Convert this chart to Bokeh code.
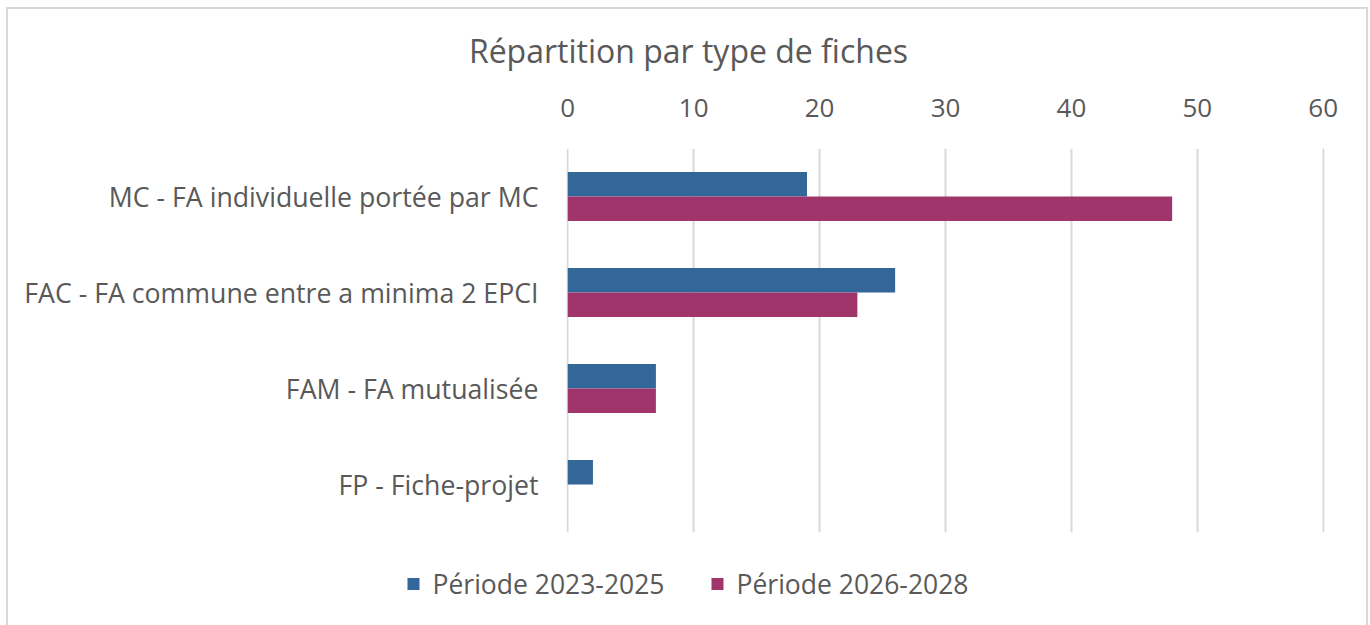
from bokeh.plotting import figure
from bokeh.models import ColumnDataSource, FactorRange, Legend, LegendItem, FixedTicker, Label
from bokeh.layouts import column
from bokeh.transform import dodge
from bokeh.embed import file_html
from bokeh.resources import INLINE

title_text = "Répartition par type de fiches"
categories = ["MC - FA individuelle portée par MC",
              "FAC - FA commune entre a minima 2 EPCI",
              "FAM - FA mutualisée",
              "FP - Fiche-projet"]
periode_2023_2025 = [19, 26, 7, 2]
periode_2026_2028 = [48, 23, 7, 0]
series_names = ["Période 2023-2025", "Période 2026-2028"]
x_ticks = [0, 10, 20, 30, 40, 50, 60]

FONT = "Open Sans"
GREY = "#595959"
BLUE = "#336699"
MAGENTA = "#A0356C"
W = 1358

src = ColumnDataSource(dict(cat=categories, a=periode_2023_2025, b=periode_2026_2028))

# ---- title strip ----
tf = figure(width=W, height=80, output_backend="svg", toolbar_location=None, title=None,
            min_border=0, x_axis_location=None, y_axis_location=None,
            x_range=(0, 1), y_range=(0, 1))
tf.frame_align = False
tf.grid.visible = False
tf.outline_line_color = None
tf.border_fill_color = None
tf.background_fill_color = None
tf.add_layout(Label(x=W / 2 + 1, y=39, x_units="screen", y_units="screen", text=title_text,
                    text_align="center", text_baseline="middle", text_font=FONT,
                    text_font_size="32px", text_color=GREY))

# ---- main chart ----
p = figure(width=W, height=453, output_backend="svg", toolbar_location=None, title=None,
           y_range=FactorRange(*reversed(categories), range_padding=0),
           x_range=(-0.1, 60.1), x_axis_location="above",
           min_border_left=558, min_border_right=42, min_border_bottom=10, min_border_top=59)
p.frame_align = False
p.border_fill_color = None
p.background_fill_color = None

p.hbar(y=dodge("cat", 0.128, range=p.y_range), right="a", height=0.255, source=src,
       fill_color=BLUE, line_color=None)
p.hbar(y=dodge("cat", -0.128, range=p.y_range), right="b", height=0.255, source=src,
       fill_color=MAGENTA, line_color=None)

xa = p.xaxis[0]
xa.ticker = FixedTicker(ticks=x_ticks)
xa.axis_line_color = None
xa.major_tick_line_color = None
xa.minor_tick_line_color = None
xa.major_label_text_font = FONT
xa.major_label_text_font_size = "26px"
xa.major_label_text_color = GREY
xa.major_label_standoff = 26

ya = p.yaxis[0]
ya.axis_line_color = None
ya.major_tick_line_color = None
ya.minor_tick_line_color = None
ya.major_label_text_font = FONT
ya.major_label_text_font_size = "26.7px"
ya.major_label_text_color = GREY
ya.major_label_standoff = 22

p.xgrid.grid_line_color = "#D9D9D9"
p.xgrid.grid_line_width = 2
p.xgrid.ticker = FixedTicker(ticks=x_ticks)
p.ygrid.grid_line_color = None
p.outline_line_color = None

# ---- legend strip (full width, legend centred) ----
lf = figure(width=W, height=83, output_backend="svg", toolbar_location=None, title=None,
            min_border=0, x_range=(0, 60),
            y_range=FactorRange(*reversed(categories), range_padding=0),
            x_axis_location=None, y_axis_location=None)
lf.frame_align = False
lf.grid.visible = False
lf.outline_line_color = None
lf.border_fill_color = None
lf.background_fill_color = None
l1 = lf.hbar(y="cat", right="a", height=0.5, source=src, fill_color=BLUE, line_color=None, visible=False)
l2 = lf.hbar(y="cat", right="b", height=0.5, source=src, fill_color=MAGENTA, line_color=None, visible=False)
legend = Legend(items=[LegendItem(label=series_names[0], renderers=[l1]),
                       LegendItem(label=series_names[1], renderers=[l2])],
                orientation="horizontal", location="center")
legend.label_text_font = FONT
legend.label_text_font_size = "26.5px"
legend.label_text_color = GREY
legend.glyph_width = 15
legend.glyph_height = 15
legend.label_standoff = 12
legend.spacing = 45
legend.padding = 0
legend.margin = 0
legend.border_line_color = None
legend.background_fill_alpha = 0
legend.inactive_fill_alpha = 0
lf.add_layout(legend, "center")

layout = column(tf, p, lf, spacing=0)
layout.styles = {"border": "2px solid #D9D9D9", "border-bottom": "none",
                 "margin-left": "6px", "margin-top": "7px", "background": "white"}

open("out.html", "w").write(file_html(layout, INLINE))
